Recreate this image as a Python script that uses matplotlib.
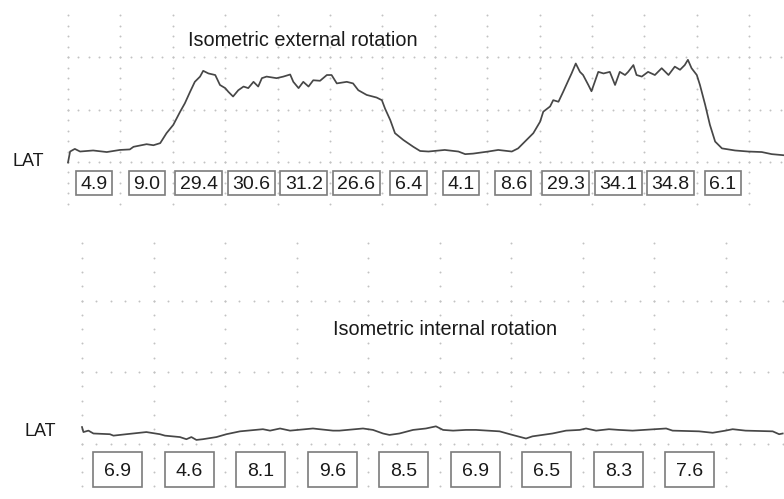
import numpy as np
import matplotlib.pyplot as plt
from matplotlib.patches import Rectangle

plt.rcParams['font.family'] = ['Liberation Sans', 'DejaVu Sans']

# trace values in grid divisions (time, amplitude)
ext_t = [0.00, 0.04, 0.13, 0.23, 0.48, 0.74, 0.99, 1.18, 1.25, 1.50, 1.63, 1.76,
         1.88, 2.01, 2.14, 2.23, 2.33, 2.42, 2.52, 2.58, 2.68, 2.81, 2.90, 3.00,
         3.06, 3.15, 3.25, 3.35, 3.44, 3.54, 3.63, 3.70, 3.79, 3.98, 4.11, 4.24,
         4.30, 4.40, 4.49, 4.59, 4.68, 4.81, 4.94, 5.03, 5.13, 5.32, 5.44, 5.54,
         5.70, 5.89, 5.99, 6.05, 6.15, 6.24, 6.40, 6.59, 6.72, 6.88, 7.19, 7.45,
         7.58, 7.73, 8.02, 8.21, 8.47, 8.59, 8.72, 8.88, 9.01, 9.07, 9.20, 9.26,
         9.36, 9.45, 9.55, 9.61, 9.69, 9.77, 9.83, 9.93, 9.99, 10.12, 10.22, 10.34,
         10.44, 10.53, 10.63, 10.69, 10.79, 10.85, 10.95, 11.07, 11.20, 11.33, 11.46, 11.58,
         11.68, 11.77, 11.83, 11.90, 12.00, 12.06, 12.16, 12.25, 12.35, 12.48, 12.73, 12.98,
         13.24, 13.43, 13.65]
ext_amp = [-0.01, 0.20, 0.25, 0.20, 0.22, 0.19, 0.23, 0.24, 0.29, 0.34, 0.32, 0.36,
           0.55, 0.71, 0.96, 1.12, 1.34, 1.53, 1.63, 1.74, 1.69, 1.66, 1.47, 1.41,
           1.34, 1.25, 1.37, 1.44, 1.41, 1.53, 1.44, 1.60, 1.63, 1.60, 1.63, 1.67,
           1.53, 1.41, 1.53, 1.44, 1.56, 1.55, 1.66, 1.66, 1.50, 1.53, 1.50, 1.37,
           1.28, 1.23, 1.18, 1.02, 0.80, 0.55, 0.42, 0.29, 0.21, 0.20, 0.23, 0.20,
           0.15, 0.16, 0.20, 0.23, 0.20, 0.26, 0.39, 0.55, 0.77, 0.96, 1.06, 1.18,
           1.15, 1.34, 1.56, 1.69, 1.88, 1.72, 1.66, 1.47, 1.35, 1.72, 1.69, 1.72,
           1.47, 1.72, 1.66, 1.72, 1.85, 1.66, 1.63, 1.72, 1.66, 1.79, 1.66, 1.82,
           1.76, 1.85, 1.95, 1.79, 1.66, 1.47, 1.09, 0.71, 0.39, 0.26, 0.22, 0.20,
           0.19, 0.15, 0.13]
ext_labels = ["4.9", "9.0", "29.4", "30.6", "31.2", "26.6", "6.4",
              "4.1", "8.6", "29.3", "34.1", "34.8", "6.1"]

int_t = [0.00, 0.02, 0.09, 0.16, 0.39, 0.44, 0.53, 0.62, 0.90, 1.09, 1.16, 1.37,
         1.46, 1.53, 1.60, 1.69, 1.88, 2.02, 2.21, 2.53, 2.63, 2.77, 2.91, 3.23,
         3.32, 3.51, 3.60, 3.93, 4.07, 4.21, 4.30, 4.44, 4.63, 4.81, 4.95, 5.05,
         5.19, 5.37, 5.51, 5.84, 6.02, 6.21, 6.30, 6.58, 6.77, 6.96, 7.05, 7.19,
         7.37, 7.51, 7.70, 8.17, 8.26, 8.63, 8.82, 9.00, 9.10, 9.28, 9.66, 9.75, 9.80]
int_amp = [0.23, 0.16, 0.18, 0.14, 0.13, 0.11, 0.12, 0.13, 0.16, 0.13, 0.11, 0.09,
           0.06, 0.09, 0.05, 0.06, 0.09, 0.13, 0.17, 0.20, 0.18, 0.21, 0.18, 0.21,
           0.20, 0.18, 0.18, 0.21, 0.19, 0.14, 0.12, 0.14, 0.19, 0.21, 0.24, 0.19,
           0.18, 0.19, 0.19, 0.17, 0.12, 0.07, 0.10, 0.14, 0.18, 0.19, 0.21, 0.18,
           0.20, 0.19, 0.18, 0.21, 0.18, 0.17, 0.15, 0.18, 0.20, 0.18, 0.17, 0.13, 0.14]
int_labels = ["6.9", "4.6", "8.1", "9.6", "8.5", "6.9", "6.5", "8.3", "7.6"]

W, H = 784, 499
DOT = '#c2c2c2'
TRACE = '#474747'
EDGE = '#7c7c7c'

fig = plt.figure(figsize=(W / 100, H / 100), dpi=100)
fig.patch.set_facecolor('white')


def make_panel(x0, y0, unit, top, bottom):
    # x0, y0: pixel position of grid origin; unit: pixels per division
    ax = fig.add_axes([0, 1 - bottom / H, 1, (bottom - top) / H])
    ax.set_xlim(-x0 / unit, (W - x0) / unit)
    ax.set_ylim((y0 - bottom) / unit, (y0 - top) / unit)
    ax.axis('off')
    return ax


def draw_grid(ax, ncols, right):
    vs = np.arange(-0.8, 2.81, 0.2)
    for k in range(ncols):
        ax.plot(np.full(len(vs), k), vs, ls='none', marker='o', ms=1.4,
                mec='none', color=DOT, zorder=1)
    ds = np.arange(0, right, 0.2)
    for r in [0, 1, 2]:
        ax.plot(ds, np.full(len(ds), r), ls='none', marker='o', ms=1.4,
                mec='none', color=DOT, zorder=1)


def draw_boxes(ax, labels, yc, h, fixed_w=None):
    r = fig.canvas.get_renderer()
    px = ax.transData.transform((1, 0))[0] - ax.transData.transform((0, 0))[0]
    for i, lab in enumerate(labels):
        t = ax.text(i + 0.5, yc, lab, ha='center', va='center_baseline',
                    fontsize=14, color='#1a1a1a', zorder=4)
        if fixed_w is None:
            w = (t.get_window_extent(r).width + 9) / px
        else:
            w = fixed_w
        ax.add_patch(Rectangle((i + 0.5 - w / 2, yc - h / 2), w, h, fc='white',
                               ec=EDGE, lw=1.2, zorder=3))


# top: isometric external rotation
ax1 = make_panel(68, 162, 52.4, 0, 222)
draw_grid(ax1, 14, 13.7)
ax1.plot(ext_t, ext_amp, color=TRACE, lw=1.25, zorder=2)
draw_boxes(ax1, ext_labels, -0.40, 0.46)
ax1.text(2.29, 2.31, 'Isometric external rotation', ha='left', va='center',
         fontsize=14.3, color='#1a1a1a')
ax1.text(-1.05, 0.0, 'LAT', ha='left', va='center', fontsize=13, color='#1a1a1a')

# bottom: isometric internal rotation
ax2 = make_panel(82, 443.5, 71.5, 222, H)
draw_grid(ax2, 10, 9.85)
ax2.plot(int_t, int_amp, color=TRACE, lw=1.25, zorder=2)
draw_boxes(ax2, int_labels, -0.37, 0.49, fixed_w=0.685)
ax2.text(3.51, 1.59, 'Isometric internal rotation', ha='left', va='center',
         fontsize=14.3, color='#1a1a1a')
ax2.text(-0.80, 0.17, 'LAT', ha='left', va='center', fontsize=13, color='#1a1a1a')

fig.savefig('out.png', dpi=100, facecolor='white')
